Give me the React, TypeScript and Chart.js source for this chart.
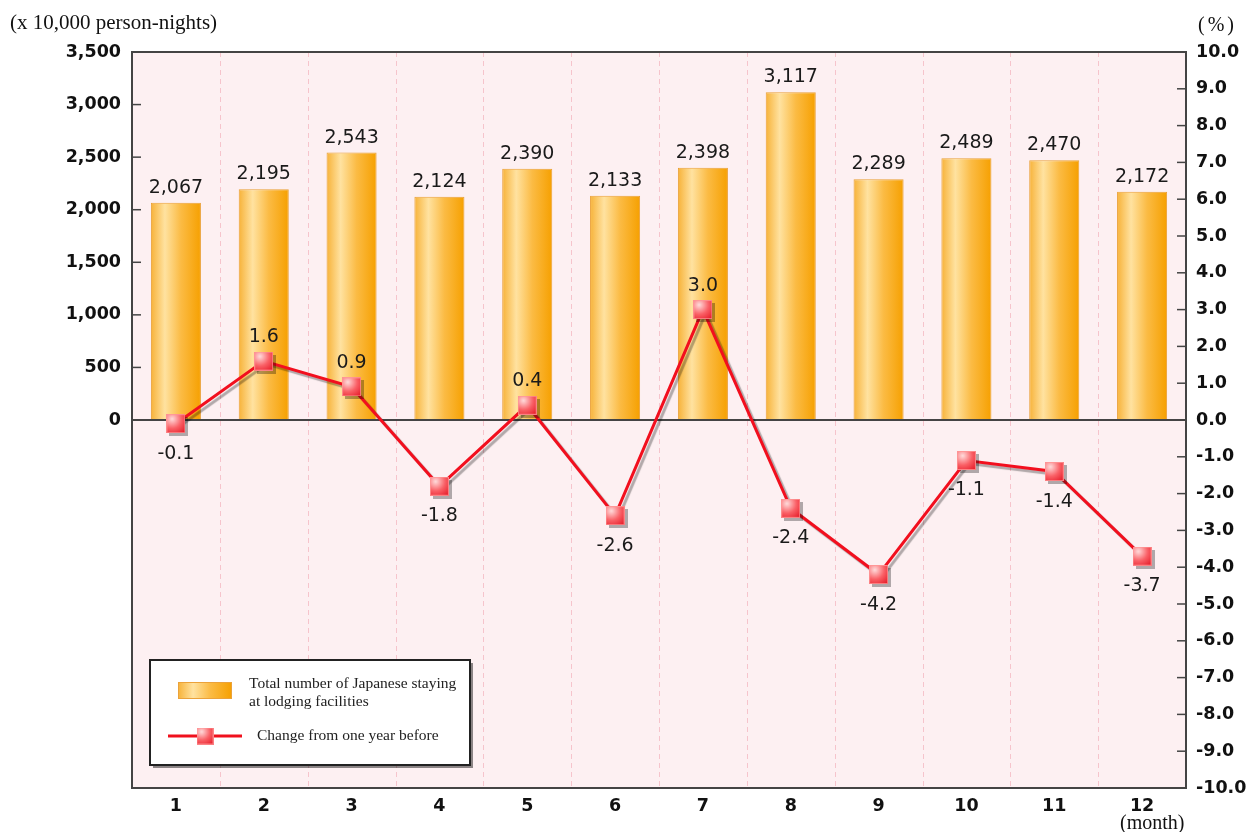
import React, { useEffect, useRef } from 'react';
import { Chart, registerables } from 'chart.js';

Chart.register(...registerables);

const months = ['1', '2', '3', '4', '5', '6', '7', '8', '9', '10', '11', '12'];
const guests = [2067, 2195, 2543, 2124, 2390, 2133, 2398, 3117, 2289, 2489, 2470, 2172];
const changes = [-0.1, 1.6, 0.9, -1.8, 0.4, -2.6, 3.0, -2.4, -4.2, -1.1, -1.4, -3.7];
const leftAxisTitle = '(x 10,000 person-nights)';
const rightAxisTitle = '(%)';
const xAxisTitle = '(month)';
const barLegend = ['Total number of Japanese staying', 'at lodging facilities'];
const lineLegend = 'Change from one year before';

const SANS = '"DejaVu Sans", Verdana, sans-serif';
const SERIF = '"Liberation Serif", "Times New Roman", serif';

function makeMarker(size: number): HTMLCanvasElement {
  const c = document.createElement('canvas');
  c.width = size;
  c.height = size;
  const g = c.getContext('2d')!;
  const rg = g.createRadialGradient(size * 0.3, size * 0.25, 0, size * 0.3, size * 0.25, size * 1.0);
  rg.addColorStop(0, '#ffdcdc');
  rg.addColorStop(0.5, '#fa6066');
  rg.addColorStop(1, '#e41422');
  g.fillStyle = rg;
  g.fillRect(0, 0, size, size);
  g.strokeStyle = 'rgba(255,150,150,0.8)';
  g.lineWidth = 1;
  g.strokeRect(0.5, 0.5, size - 1, size - 1);
  return c;
}

function barGradient(ctx: CanvasRenderingContext2D, x0: number, x1: number) {
  const g = ctx.createLinearGradient(x0, 0, x1, 0);
  g.addColorStop(0, '#f7b238');
  g.addColorStop(0.28, '#ffe2a0');
  g.addColorStop(0.6, '#fbbb44');
  g.addColorStop(1, '#f6a000');
  return g;
}

export default function App() {
  const ref = useRef<HTMLCanvasElement | null>(null);

  useEffect(() => {
    if (!ref.current) return;
    const marker = makeMarker(19);
    const legendMarker = makeMarker(17);

    const decor = {
      id: 'decor',
      beforeDraw(chart: any) {
        const { ctx, chartArea: a } = chart;
        ctx.save();
        ctx.fillStyle = '#ffffff';
        ctx.fillRect(0, 0, chart.width, chart.height);
        ctx.fillStyle = '#fdf0f2';
        ctx.fillRect(a.left, a.top, a.right - a.left, a.bottom - a.top);
        const xs = chart.scales.x;
        ctx.strokeStyle = '#f6c4cc';
        ctx.lineWidth = 1;
        ctx.setLineDash([5, 4]);
        for (let i = 0; i < months.length - 1; i++) {
          const x = Math.round((xs.getPixelForValue(i) + xs.getPixelForValue(i + 1)) / 2) + 0.5;
          ctx.beginPath();
          ctx.moveTo(x, a.top);
          ctx.lineTo(x, a.bottom);
          ctx.stroke();
        }
        ctx.setLineDash([]);
        ctx.fillStyle = '#111';
        ctx.font = `21px ${SERIF}`;
        ctx.textAlign = 'left';
        ctx.textBaseline = 'alphabetic';
        ctx.fillText(leftAxisTitle, 10, 29);
        ctx.font = `20px ${SERIF}`;
        ctx.letterSpacing = '3px';
        ctx.fillText(rightAxisTitle, 1198, 31);
        ctx.letterSpacing = '0px';
        ctx.fillText(xAxisTitle, 1120, 829);
        ctx.restore();
      },
      beforeDatasetsDraw(chart: any) {
        const ctx = chart.ctx;
        const bars = chart.getDatasetMeta(0).data;
        bars.forEach((el: any) => {
          if (isFinite(el.x) && isFinite(el.width) && el.options) {
            el.options = Object.assign({}, el.options, {
              backgroundColor: barGradient(ctx, el.x - el.width / 2, el.x + el.width / 2),
            });
          }
        });
      },
      beforeDatasetDraw(chart: any, args: any) {
        if (args.index === 1) {
          const ctx = chart.ctx;
          ctx.save();
          ctx.shadowColor = 'rgba(0,0,0,0.3)';
          ctx.shadowOffsetX = 3;
          ctx.shadowOffsetY = 3;
          ctx.shadowBlur = 1;
        }
      },
      afterDatasetDraw(chart: any, args: any) {
        const ctx = chart.ctx;
        if (args.index === 1) {
          ctx.restore();
          return;
        }
        if (args.index !== 0) return;
        const a = chart.chartArea;
        const y = chart.scales.y;
        const y1 = chart.scales.y1;
        ctx.save();
        ctx.strokeStyle = '#444';
        ctx.lineWidth = 2;
        ctx.strokeRect(a.left, a.top, a.right - a.left, a.bottom - a.top);
        const z = Math.round(y.getPixelForValue(0));
        ctx.beginPath();
        ctx.moveTo(a.left, z);
        ctx.lineTo(a.right, z);
        ctx.stroke();
        ctx.lineWidth = 1.5;
        for (let v = 500; v < 3500; v += 500) {
          const p = y.getPixelForValue(v);
          ctx.beginPath();
          ctx.moveTo(a.left, p);
          ctx.lineTo(a.left + 9, p);
          ctx.stroke();
        }
        for (let v = -9; v <= 9; v += 1) {
          const p = y1.getPixelForValue(v);
          ctx.beginPath();
          ctx.moveTo(a.right - 9, p);
          ctx.lineTo(a.right, p);
          ctx.stroke();
        }
        ctx.restore();
      },
      afterDraw(chart: any) {
        const ctx = chart.ctx;
        ctx.save();
        ctx.fillStyle = '#1a1a1a';
        ctx.font = `19px ${SANS}`;
        ctx.textAlign = 'center';
        ctx.textBaseline = 'alphabetic';
        const bars = chart.getDatasetMeta(0).data;
        bars.forEach((el: any, i: number) => {
          ctx.fillText(guests[i].toLocaleString('en-US'), el.x, el.y - 10);
        });
        const pts = chart.getDatasetMeta(1).data;
        pts.forEach((el: any, i: number) => {
          const v = changes[i];
          const t = v.toFixed(1);
          if (v >= 0) ctx.fillText(t, el.x, el.y - 19);
          else ctx.fillText(t, el.x, el.y + 35);
        });

        // legend
        const bx = 150, by = 660, bw = 320, bh = 105;
        ctx.fillStyle = 'rgba(0,0,0,0.45)';
        ctx.fillRect(bx + 3, by + 3, bw, bh);
        ctx.fillStyle = '#ffffff';
        ctx.fillRect(bx, by, bw, bh);
        ctx.strokeStyle = '#222';
        ctx.lineWidth = 2;
        ctx.strokeRect(bx, by, bw, bh);

        ctx.fillStyle = barGradient(ctx, 178, 232);
        ctx.fillRect(178, 682, 54, 17);
        ctx.strokeStyle = '#eba23a';
        ctx.lineWidth = 1;
        ctx.strokeRect(178.5, 682.5, 53, 16);

        ctx.strokeStyle = '#f0101c';
        ctx.lineWidth = 3;
        ctx.beginPath();
        ctx.moveTo(168, 736);
        ctx.lineTo(242, 736);
        ctx.stroke();
        ctx.drawImage(legendMarker, 205 - 8.5, 736 - 8.5);

        ctx.fillStyle = '#222';
        ctx.font = `15.5px ${SERIF}`;
        ctx.textAlign = 'left';
        ctx.fillText(barLegend[0], 249, 688);
        ctx.fillText(barLegend[1], 249, 706);
        ctx.fillText(lineLegend, 257, 740);
        ctx.restore();
      },
    };

    const tickFont = { family: SANS, size: 17.5, weight: 'bold' };

    const chart = new Chart(ref.current, {
      type: 'bar',
      data: {
        labels: months,
        datasets: [
          {
            type: 'bar',
            label: barLegend.join(' '),
            data: guests,
            yAxisID: 'y',
            order: 2,
            barPercentage: 0.57,
            categoryPercentage: 1,
            borderColor: '#eaa036',
            borderWidth: 1,
            backgroundColor: '#fcc35a',
          } as any,
          {
            type: 'line',
            label: lineLegend,
            data: changes,
            yAxisID: 'y1',
            order: 1,
            borderColor: '#f20f1e',
            borderWidth: 3,
            tension: 0,
            pointStyle: marker as any,
            pointRadius: 10,
            clip: false as any,
          } as any,
        ],
      },
      options: {
        responsive: false,
        animation: false,
        devicePixelRatio: 1,
        layout: { padding: { top: 52, left: 0, right: 0, bottom: 0 } },
        plugins: { legend: { display: false }, tooltip: { enabled: false } },
        scales: {
          x: {
            type: 'category',
            offset: true,
            grid: { display: false, drawTicks: false },
            border: { display: false },
            ticks: { color: '#111', font: tickFont, padding: 8, maxRotation: 0 },
            afterFit: (s: any) => { s.height = 44; },
          },
          y: {
            position: 'left',
            min: -3500,
            max: 3500,
            grid: { display: false, drawTicks: false },
            border: { display: false },
            ticks: {
              stepSize: 500,
              autoSkip: false,
              padding: 11,
              color: '#111',
              font: tickFont,
              callback: (v: any) => (Number(v) >= 0 ? Number(v).toLocaleString('en-US') : ''),
            },
            afterFit: (s: any) => { s.width = 132; },
          },
          y1: {
            position: 'right',
            min: -10,
            max: 10,
            grid: { display: false, drawTicks: false },
            border: { display: false },
            ticks: {
              stepSize: 1,
              autoSkip: false,
              padding: 10,
              color: '#111',
              font: tickFont,
              callback: (v: any) => Number(v).toFixed(1),
            },
            afterFit: (s: any) => { s.width = 70; },
          },
        },
      } as any,
      plugins: [decor],
    });
    return () => chart.destroy();
  }, []);

  return (
    <div style={{ position: 'fixed', left: 0, top: 0, width: 1256, height: 832, background: '#fff' }}>
      <canvas ref={ref} width={1256} height={832} style={{ display: 'block', width: 1256, height: 832 }} />
    </div>
  );
}
